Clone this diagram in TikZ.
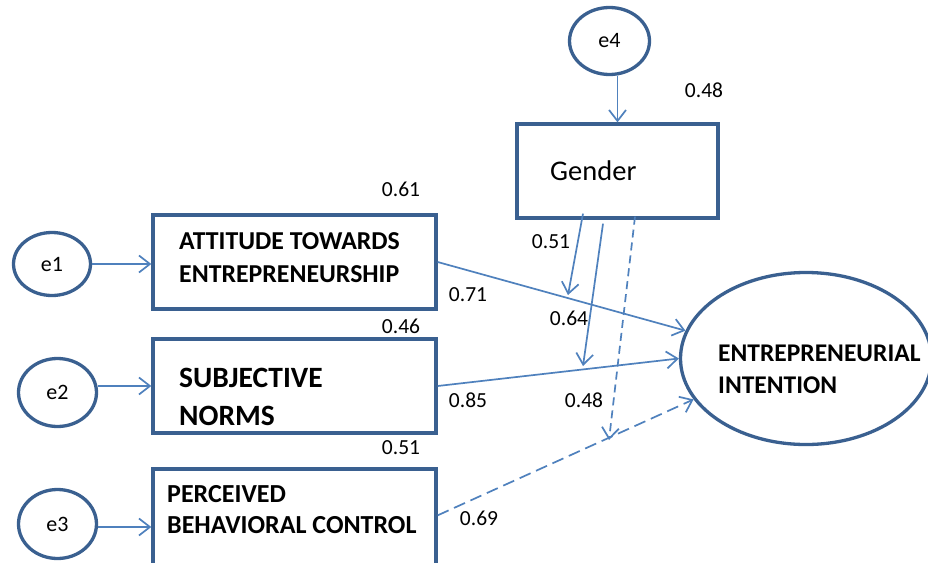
\documentclass[tikz,border=0pt]{standalone}
\usepackage{fontspec}
\setmainfont{Carlito}
\usetikzlibrary{shapes.geometric,arrows.meta}
\definecolor{edgeblue}{RGB}{58,96,144}
\definecolor{arrowblue}{RGB}{79,129,189}
\tikzset{
  errnode/.style={ellipse, draw=edgeblue, line width=3.3pt, inner sep=0pt, fill=white},
  varbox/.style={rectangle, draw=edgeblue, line width=3.3pt, inner sep=0pt, fill=white},
  arr/.style={draw=arrowblue, line width=1.7pt, -{Straight Barb[length=11pt,width=17pt,line width=1.7pt]}},
  dasharr/.style={arr, dash pattern=on 12pt off 6pt},
  dasharrb/.style={arr, dash pattern=on 8pt off 5pt},
  lbl/.style={inner sep=0pt, font=\fontsize{21.5}{24}\selectfont},
  elbl/.style={font=\fontsize{22}{24}\selectfont},
  boldtxt/.style={inner sep=0pt, anchor=base west, font=\bfseries},
}
\begin{document}
\begin{tikzpicture}[x=1pt,y=-1pt]
\clip (0,0) rectangle (928,562);
\fill[white] (0,0) rectangle (928,562);
% error terms
\node[errnode, elbl, minimum width=77pt, minimum height=63pt] (e1) at (52,264) {e1};
\node[errnode, elbl, minimum width=78pt, minimum height=68pt] (e2) at (57.5,392.5) {e2};
\node[errnode, elbl, minimum width=78pt, minimum height=69pt] (e3) at (57.5,524) {e3};
\node[errnode, elbl, minimum width=80pt, minimum height=67pt] (e4) at (609.5,41) {e4};
% boxes
\node[varbox, minimum width=283pt, minimum height=94pt] (b1) at (294.5,262) {};
\node[varbox, minimum width=283pt, minimum height=94pt] (b2) at (294.5,386) {};
\node[varbox, minimum width=283pt, minimum height=131pt] (b3) at (294.5,534.5) {};
\node[varbox, minimum width=201pt, minimum height=94pt] (g) at (617.5,171) {};
\node[errnode, minimum width=251pt, minimum height=172pt] (ei) at (806,358.5) {};
% texts
\node[inner sep=0pt, anchor=base west, font=\fontsize{28.5}{32}\selectfont] (gt) at (550,180) {Gender};
\node[boldtxt, font=\bfseries\fontsize{25.8}{30}\selectfont] (t1a) at (179,249) {ATTITUDE TOWARDS};
\node[boldtxt, font=\bfseries\fontsize{25.8}{30}\selectfont] (t1b) at (179,282) {ENTREPRENEURSHIP};
\node[boldtxt, font=\bfseries\fontsize{29.5}{34}\selectfont] (t2a) at (179,387) {SUBJECTIVE};
\node[boldtxt, font=\bfseries\fontsize{29.5}{34}\selectfont] (t2b) at (179,425) {NORMS};
\node[boldtxt, font=\bfseries\fontsize{26}{30}\selectfont] (t3a) at (167,502) {PERCEIVED};
\node[boldtxt, font=\bfseries\fontsize{26}{30}\selectfont] (t3b) at (167,533) {BEHAVIORAL CONTROL};
\node[boldtxt, font=\bfseries\fontsize{25.5}{30}\selectfont] (t4a) at (718,361) {ENTREPRENEURIAL};
\node[boldtxt, font=\bfseries\fontsize{25.5}{30}\selectfont] (t4b) at (718,393) {INTENTION};
% numbers
\node[lbl] (n048a) at (704,90) {0.48};
\node[lbl] (n061) at (401,189) {0.61};
\node[lbl] (n051a) at (551,242) {0.51};
\node[lbl] (n071) at (468,295) {0.71};
\node[lbl] (n064) at (569,318) {0.64};
\node[lbl] (n046) at (401,326) {0.46};
\node[lbl] (n085) at (468,400) {0.85};
\node[lbl] (n048b) at (584,400) {0.48};
\node[lbl] (n051b) at (401,448) {0.51};
\node[lbl] (n069) at (479,518) {0.69};
% connectors
\draw[arr] (e1.east) -- (e1.east -| b1.west);
\draw[arr] (e2.east |- b2.west) -- (b2.west);
\draw[arr] ([yshift=-3pt]e3.east) -- ([yshift=-3pt]e3.east -| b3.west);
\draw[arr] (g.north |- e4.south) -- (g.north);
\draw[arr] (b1.east) -- (ei.167);
\draw[arr] (b2.east) -- (ei.west);
\coordinate (b3out) at ([yshift=-48pt]b3.north east);
\draw[dasharr] (b3out) -- (ei.200);
\coordinate (m1) at (568,295);
\coordinate (m2) at (583,366);
\coordinate (m3) at (609,440);
\draw[arr] ([xshift=-34.5pt,yshift=6pt]g.south) -- (m1);
\draw[arr] ([xshift=-14.5pt,yshift=-4pt]g.south) -- (m2);
\draw[dasharrb] ([xshift=17.5pt,yshift=3pt]g.south) -- (m3);
\end{tikzpicture}
\end{document}
